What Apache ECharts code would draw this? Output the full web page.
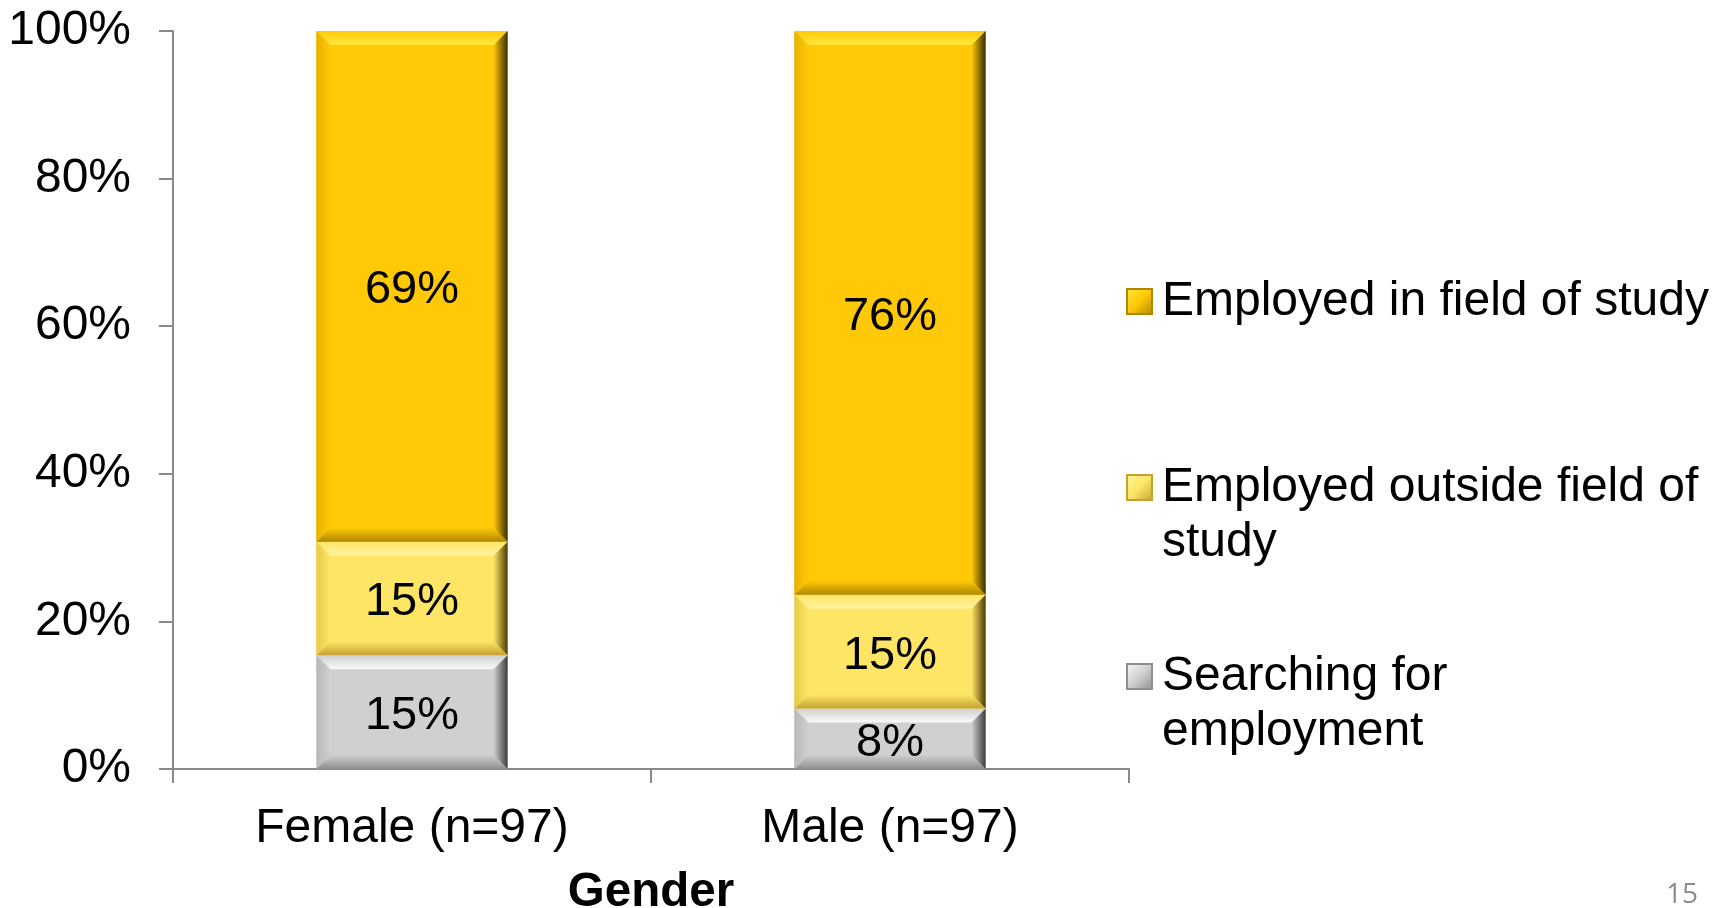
<!DOCTYPE html>
<html>
<head>
<meta charset="utf-8">
<script src="https://cdn.jsdelivr.net/npm/echarts@6/dist/echarts.min.js"></script>
<style>
  html, body { margin: 0; padding: 0; background: #fff; }
  #chart { width: 1725px; height: 908px; }
</style>
</head>
<body>
<div id="chart"></div>
<script>
const categories = ['Female (n=97)', 'Male (n=97)']
const seriesNames = ['Searching for employment', 'Employed outside field of study', 'Employed in field of study']
const searching = [15.4, 8.2]
const outsideField = [15.4, 15.4]
const inField = [69.2, 76.4]
const yTicks = [0, 20, 40, 60, 80, 100]

const FONT = 'Liberation Sans, Arial, sans-serif'

// base, top highlight, bottom shade, left shade, right edge dark
const palettes = [
  { base: '#D0D0D0', top: '#FAFAFA', bottom: '#8E8E8E', left: '#B8B8B8', right: '#3C3C3C' },
  { base: '#FFE566', top: '#FFF3A0', bottom: '#C4A232', left: '#E8C94A', right: '#4A3C00' },
  { base: '#FFC907', top: '#FFE83A', bottom: '#AD8700', left: '#E6B200', right: '#3A2E00' }
]

const values = [searching, outsideField, inField]

function buildData(idx) {
  return categories.map((c, i) => {
    let base = 0
    for (let k = 0; k < idx; k++) base += values[k][i]
    return [i, base, values[idx][i]]
  })
}

function bevelRenderer(idx) {
  const pal = palettes[idx]
  return function (params, api) {
    const i = api.value(0)
    const base = api.value(1)
    const v = api.value(2)
    const p0 = api.coord([i, base])
    const p1 = api.coord([i, base + v])
    const w = api.size([1, 0])[0] * 0.4
    const x = p0[0] - w / 2
    const y = p1[1]
    const h = p0[1] - p1[1]
    const d = Math.min(14, h / 2)
    const grad = (c1, c2, horiz) => new echarts.graphic.LinearGradient(0, 0, horiz ? 1 : 0, horiz ? 0 : 1, [
      { offset: 0, color: c1 }, { offset: 1, color: c2 }
    ])
    return {
      type: 'group',
      children: [
        { type: 'rect', shape: { x: x, y: y, width: w, height: h }, style: { fill: pal.base } },
        { type: 'polygon', shape: { points: [[x, y], [x + w, y], [x + w - d, y + d], [x + d, y + d]] },
          style: { fill: grad(pal.base, pal.top, false) } },
        { type: 'polygon', shape: { points: [[x, y + h], [x + w, y + h], [x + w - d, y + h - d], [x + d, y + h - d]] },
          style: { fill: grad(pal.base, pal.bottom, false) } },
        { type: 'polygon', shape: { points: [[x, y], [x + d, y + d], [x + d, y + h - d], [x, y + h]] },
          style: { fill: grad(pal.left, pal.base, true) } },
        { type: 'polygon', shape: { points: [[x + w, y], [x + w - d, y + d], [x + w - d, y + h - d], [x + w, y + h]] },
          style: { fill: grad(pal.base, pal.right, true) } },
        { type: 'text', style: {
            text: Math.round(v) + '%', x: p0[0], y: y + h / 2 + 4,
            align: 'center', verticalAlign: 'middle',
            font: '47px ' + FONT, fill: '#000'
          } }
      ]
    }
  }
}

// multi-line entries get an empty first line so the icon sits by the first text line
const legendTops = [594, 405, 274]
const legendWrap = {
  'Searching for employment': '\nSearching for\nemployment',
  'Employed outside field of study': '\nEmployed outside field of\nstudy',
  'Employed in field of study': 'Employed in field of study'
}

const chart = echarts.init(document.getElementById('chart'))

chart.setOption({
  animation: false,
  grid: { left: 173, right: 596, top: 31, bottom: 139, outerBoundsMode: 'none', containLabel: false },
  legend: seriesNames.map((name, idx) => ({
    data: [{
      name: name,
      itemStyle: {
        color: new echarts.graphic.LinearGradient(0, 0, 1, 1, [
          { offset: 0, color: palettes[idx].top },
          { offset: 0.5, color: palettes[idx].base },
          { offset: 1, color: palettes[idx].bottom }
        ]),
        borderColor: palettes[idx].bottom,
        borderWidth: 2
      }
    }],
    left: 1126,
    top: legendTops[idx],
    padding: 0,
    icon: 'rect',
    itemWidth: 25,
    itemHeight: 25,
    itemGap: 0,
    selectedMode: false,
    formatter: n => legendWrap[n].split('\n').map(s => '{t|' + s + '}').join('\n'),
    textStyle: {
      fontFamily: FONT, fontSize: 48, color: '#000', lineHeight: 55,
      rich: { t: { fontFamily: FONT, fontSize: 48, color: '#000', lineHeight: 55, padding: [0, 0, 0, 5] } }
    }
  })),
  xAxis: {
    type: 'category',
    data: categories,
    name: 'Gender',
    nameLocation: 'middle',
    nameGap: 100,
    nameTextStyle: { fontFamily: FONT, fontSize: 47.5, fontWeight: 'bold', color: '#000' },
    axisLine: { lineStyle: { color: '#898989', width: 2 } },
    axisTick: { show: true, length: 14, lineStyle: { color: '#898989', width: 2 } },
    axisLabel: { fontFamily: FONT, fontSize: 48, color: '#000', margin: 36 }
  },
  yAxis: {
    type: 'value',
    min: yTicks[0],
    max: yTicks[yTicks.length - 1],
    interval: 20,
    splitLine: { show: false },
    axisLine: { show: true, lineStyle: { color: '#898989', width: 2 } },
    axisTick: { show: true, length: 14, lineStyle: { color: '#898989', width: 2 } },
    axisLabel: { fontFamily: FONT, fontSize: 48, color: '#000', margin: 42, formatter: '{value}%' }
  },
  series: seriesNames.map((name, idx) => ({
    name: name,
    type: 'custom',
    renderItem: bevelRenderer(idx),
    itemStyle: { color: palettes[idx].base },
    encode: { x: 0, y: [1, 2] },
    data: buildData(idx)
  })),
  graphic: [{
    type: 'text',
    right: 1725 - 1698,
    top: 881,
    style: { text: '15', font: '28px "Open Sans", sans-serif', fill: '#8C8C8C' }
  }]
})
</script>
</body>
</html>
